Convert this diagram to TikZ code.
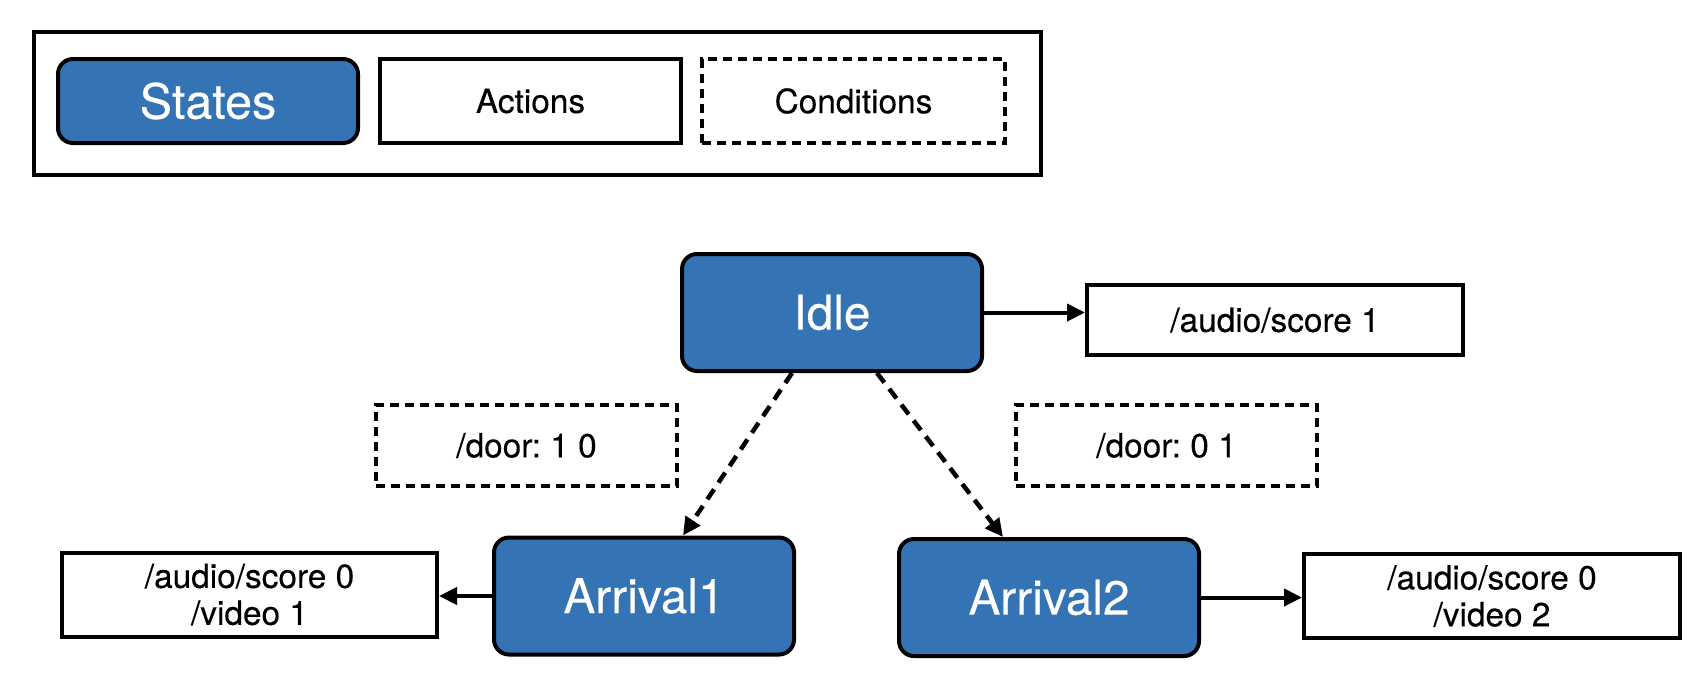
\documentclass[tikz,border=0pt]{standalone}
\usepackage{fontspec}
\setmainfont{TeX Gyre Heros}[FakeBold=0.3]
\usetikzlibrary{arrows.meta,positioning}
\definecolor{statblue}{RGB}{52,116,181}
\frenchspacing

\begin{document}
\begin{tikzpicture}[>={Triangle[length=0.18cm,width=0.17cm]},line width=0.04cm,
  every node/.style={inner sep=0pt,font=\fontsize{9.5}{10.5}\selectfont},
  state/.style={draw,fill=statblue,rounded corners=0.15cm,minimum width=3.0cm,minimum height=1.17cm,text=white,font=\fontsize{13.6}{15}\selectfont},
  action/.style={draw,minimum width=3.76cm,minimum height=0.84cm,align=center},
  cond/.style={draw,dash pattern=on 0.09cm off 0.06cm,minimum width=3.01cm,minimum height=0.81cm},
  guard/.style={->,line width=0.045cm,dash pattern=on 0.12cm off 0.08cm}]
\useasboundingbox (0,0) rectangle (17.04,6.8);
% legend
\node[draw,minimum width=10.07cm,minimum height=1.43cm] (legend) at (5.375,5.765) {};
\node[state,minimum height=0.84cm,font=\fontsize{13.8}{15}\selectfont] (states) at (2.08,5.79) {States};
\node[action,minimum width=3.01cm,right=0.18cm of states] (actions) {Actions};
\node[cond,minimum width=3.03cm,minimum height=0.84cm,right=0.17cm of actions] (conds) {Conditions};
% machine
\node[state] (idle) at (8.32,3.675) {Idle};
\node[action,minimum height=0.7cm] (idleact) at (12.75,3.6) {/audio/score 1};
\node[cond] (door10) at (5.265,2.345) {/door: 1 0};
\node[cond] (door01) at (11.665,2.345) {/door: 0 1};
\node[state] (arr1) at (6.44,0.84) {Arrival1};
\node[state] (arr2) at (10.49,0.825) {Arrival2};
\node[action,minimum width=3.75cm] (arr1act) at (2.495,0.855) {/audio/score 0\\/video 1};
\node[action] (arr2act) at (14.92,0.84) {/audio/score 0\\/video 2};
\draw[->] (idle.east) -- (idle.east -| idleact.west);
\draw[->] (arr1.west) -- (arr1.west -| arr1act.east);
\draw[->] (arr2.east) -- (arr2.east -| arr2act.west);
\draw[guard] ([xshift=-0.4cm]idle.south) -- ([xshift=0.39cm]arr1.north);
\draw[guard] ([xshift=0.45cm]idle.south) -- ([xshift=-0.46cm]arr2.north);
\end{tikzpicture}
\end{document}
